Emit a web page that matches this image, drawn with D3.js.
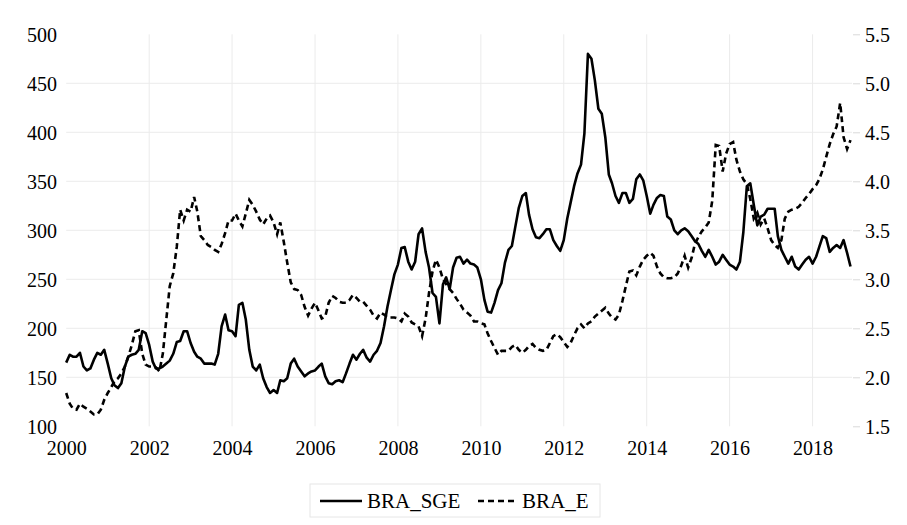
<!DOCTYPE html>
<html>
<head>
<meta charset="utf-8">
<script src="https://cdn.jsdelivr.net/npm/d3@7/dist/d3.min.js"></script>
<style>
  body { margin: 0; background: #fff; }
</style>
</head>
<body>
<svg id="chart" width="907" height="525"></svg>
<script>
// monthly values, jan 2000 .. dec 2018
var braSge = [
  165,173,171,171,175,161,157,159,168,175, 173,178,164,149,142,139,144,161,171,173,
  174,178,197,195,183,166,159,159,161,164, 167,174,186,187,197,197,185,176,171,169,
  164,164,164,163,174,202,214,198,197,192, 224,226,209,178,161,157,163,149,140,134,
  137,134,147,146,149,164,169,161,156,151, 154,156,157,161,164,151,144,143,146,147,
  145,154,164,173,168,174,178,170,166,173, 177,185,202,222,239,255,265,282,283,268,
  260,268,296,302,278,262,236,232,205,245, 252,240,262,272,273,266,270,266,265,262,
  250,229,217,216,226,239,246,267,280,284, 304,323,335,338,316,301,293,292,296,301,
  301,290,284,279,290,312,328,345,358,367, 399,480,475,453,424,419,395,357,348,335,
  328,338,338,328,332,352,357,351,335,317, 326,333,336,335,314,311,300,296,300,302,
  299,294,289,286,279,273,280,273,265,268, 275,270,265,263,260,268,298,345,348,326,
  305,314,316,322,322,322,294,280,273,266, 273,263,260,265,270,273,266,273,283,294,
  292,278,282,285,282,290,277,263
]
var braE = [
  1.84,1.73,1.68,1.67,1.73,1.70,1.68,1.65,1.62,1.62, 1.67,1.77,1.84,1.90,1.96,1.99,2.04,2.11,2.21,2.33,
  2.47,2.48,2.24,2.13,2.11,2.11,2.10,2.06,2.24,2.59, 2.93,3.06,3.33,3.71,3.60,3.71,3.69,3.84,3.69,3.44,
  3.40,3.35,3.33,3.30,3.28,3.36,3.47,3.60,3.60,3.67, 3.60,3.54,3.67,3.81,3.76,3.69,3.61,3.56,3.62,3.65,
  3.58,3.46,3.58,3.38,3.17,2.97,2.90,2.89,2.84,2.72, 2.63,2.70,2.76,2.68,2.60,2.62,2.76,2.83,2.81,2.77,
  2.76,2.76,2.79,2.84,2.81,2.77,2.77,2.73,2.69,2.63, 2.60,2.66,2.64,2.61,2.61,2.61,2.60,2.57,2.65,2.62,
  2.56,2.54,2.52,2.42,2.60,2.86,3.08,3.20,3.12,3.00, 2.95,2.90,2.86,2.80,2.75,2.69,2.66,2.63,2.57,2.57,
  2.55,2.54,2.45,2.37,2.30,2.23,2.27,2.27,2.27,2.31, 2.33,2.28,2.25,2.28,2.32,2.34,2.30,2.28,2.27,2.28,
  2.35,2.42,2.44,2.41,2.36,2.31,2.35,2.43,2.50,2.54, 2.50,2.55,2.57,2.62,2.65,2.68,2.71,2.65,2.61,2.59,
  2.64,2.78,2.93,3.08,3.09,3.04,3.13,3.20,3.24,3.27, 3.24,3.13,3.06,3.02,3.01,3.01,3.02,3.06,3.14,3.24,
  3.12,3.22,3.36,3.43,3.49,3.53,3.58,3.80,4.37,4.36, 4.10,4.28,4.38,4.40,4.22,4.10,4.02,3.97,3.82,3.62,
  3.68,3.56,3.62,3.52,3.40,3.35,3.32,3.40,3.62,3.69, 3.71,3.72,3.74,3.78,3.83,3.87,3.92,3.96,4.02,4.12,
  4.25,4.38,4.48,4.56,4.80,4.45,4.33,4.42
]
var leftTicks = [100, 150, 200, 250, 300, 350, 400, 450, 500]
var rightTicks = [1.5, 2.0, 2.5, 3.0, 3.5, 4.0, 4.5, 5.0, 5.5]
var yearTicks = [2000, 2002, 2004, 2006, 2008, 2010, 2012, 2014, 2016, 2018]
var seriesNames = ["BRA_SGE", "BRA_E"]

var serif = "'Liberation Serif', 'DejaVu Serif', serif"
var svg = d3.select("#chart")
var months = braSge.map(function (d, i) { return new Date(2000, i, 1) })

var x = d3.scaleTime()
    .domain([months[0], months[months.length - 1]])
    .range([66.2, 850.5])
var yL = d3.scaleLinear().domain([100, 500]).range([426.3, 34.3])
var yR = d3.scaleLinear().domain([1.5, 5.5]).range([426.3, 34.3])

// grid
var grid = svg.append("g")
grid.selectAll("line.h")
    .data(leftTicks.slice(1, -1))
    .enter().append("line")
    .attr("x1", x.range()[0]).attr("x2", 852)
    .attr("y1", function (d) { return yL(d) }).attr("y2", function (d) { return yL(d) })
    .style("stroke", "#ebebeb").style("stroke-width", 1)
grid.selectAll("line.v")
    .data(yearTicks.slice(1))
    .enter().append("line")
    .attr("x1", function (d) { return x(new Date(d, 0, 1)) })
    .attr("x2", function (d) { return x(new Date(d, 0, 1)) })
    .attr("y1", yL(500)).attr("y2", yL(100))
    .style("stroke", "#ebebeb").style("stroke-width", 1)

// left axis
var la = svg.append("g")
    .attr("transform", "translate(57,0)")
    .call(d3.axisLeft(yL).tickValues(leftTicks).tickSize(0).tickPadding(0))
la.select(".domain").remove()
la.attr("font-family", serif)
la.selectAll("text").style("font-family", serif).style("font-size", "20px").attr("dy", "0.35em")

// right axis
var ra = svg.append("g")
    .attr("transform", "translate(853,0)")
    .call(d3.axisRight(yR).tickValues(rightTicks).tickSize(7).tickPadding(5)
        .tickFormat(d3.format(".1f")))
ra.select(".domain").remove()
ra.attr("font-family", serif)
ra.selectAll("line").style("stroke", "#d9d9d9")
ra.selectAll("text").style("font-family", serif).style("font-size", "20px").attr("dy", "0.35em")

// x axis
var xa = svg.append("g")
    .attr("transform", "translate(0,440)")
    .call(d3.axisBottom(x).tickValues(yearTicks.map(function (d) { return new Date(d, 0, 1) }))
        .tickFormat(d3.timeFormat("%Y")).tickSize(0).tickPadding(0))
xa.select(".domain").remove()
xa.attr("font-family", serif)
xa.selectAll("text").style("font-family", serif).style("font-size", "20px").attr("dy", "0.75em")

// lines
var lineL = d3.line()
    .x(function (d, i) { return x(months[i]) })
    .y(function (d) { return yL(d) })
var lineR = d3.line()
    .x(function (d, i) { return x(months[i]) })
    .y(function (d) { return yR(d) })

svg.append("path")
    .datum(braE)
    .attr("d", lineR)
    .style("fill", "none").style("stroke", "#000").style("stroke-width", 2.6)
    .style("stroke-dasharray", "6,4")
svg.append("path")
    .datum(braSge)
    .attr("d", lineL)
    .style("fill", "none").style("stroke", "#000").style("stroke-width", 2.6)
    .style("stroke-linejoin", "round")

// legend
var lg = svg.append("g")
lg.append("rect")
    .attr("x", 310).attr("y", 484).attr("width", 290).attr("height", 33)
    .style("fill", "#fff").style("stroke", "#e6e6e6")
lg.append("line").attr("x1", 320).attr("x2", 362).attr("y1", 501).attr("y2", 501)
    .style("stroke", "#000").style("stroke-width", 2.6)
lg.append("line").attr("x1", 478).attr("x2", 518).attr("y1", 501).attr("y2", 501)
    .style("stroke", "#000").style("stroke-width", 2.6).style("stroke-dasharray", "6,4")
lg.append("text").attr("x", 367).attr("y", 508).text(seriesNames[0])
    .style("font-family", serif).style("font-size", "21px")
lg.append("text").attr("x", 522).attr("y", 508).text(seriesNames[1])
    .style("font-family", serif).style("font-size", "21px")
</script>
</body>
</html>
